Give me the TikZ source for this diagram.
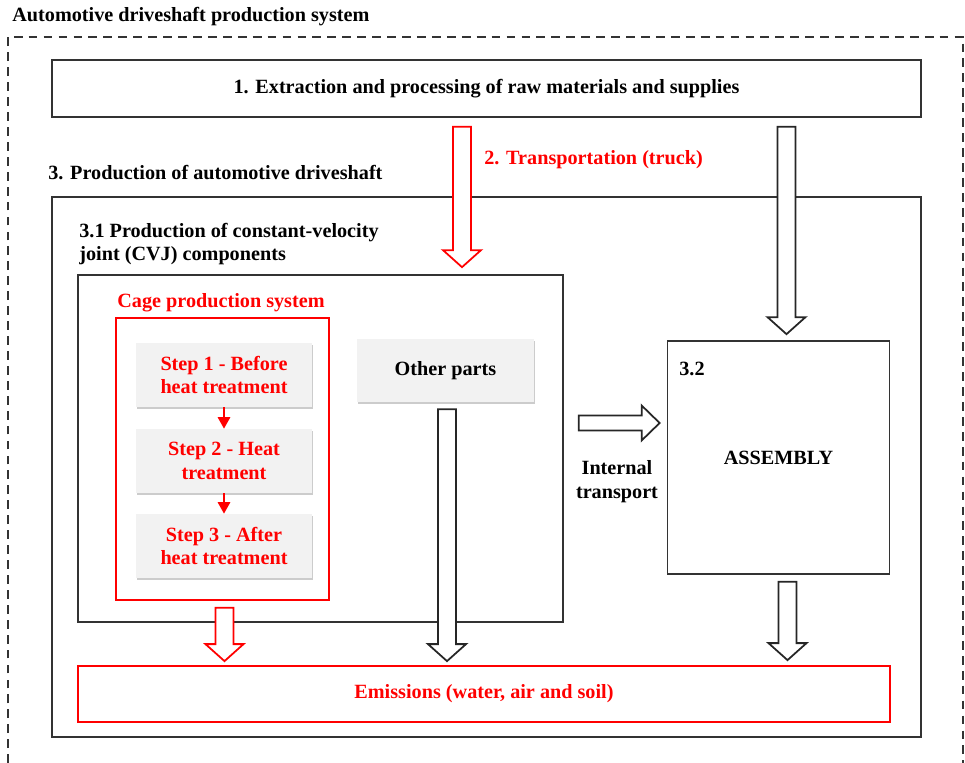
\documentclass[tikz,border=0pt]{standalone}
\usepackage{fontspec}
\setmainfont{Liberation Serif}
\usetikzlibrary{positioning, calc, shadows, arrows.meta}
\definecolor{boxgrey}{HTML}{F2F2F2}
\tikzset{
    lbl/.style={font=\bfseries\fontsize{11.5}{13.6}\selectfont, inner sep=0pt},
    frame/.style={draw=black!80, line width=1pt, lbl},
    redframe/.style={draw=red, line width=1pt, lbl},
    greybox/.style={fill=boxgrey, lbl, align=center, drop shadow={opacity=0.4, shadow xshift=0.8pt, shadow yshift=-1.4pt}},
    stepbox/.style={greybox, text=red, minimum width=3.52cm, minimum height=1.28cm},
    fatarrow/.style={line width=1pt, fill=white, line join=miter},
}
%block arrows (top, tip)
\newcommand{\fatdown}[3]{%
    \draw[fatarrow,draw=#1] ($(#2)+(-9,0)$) -- ($(#2)+(9,0)$) -- ($(#3)+(9,-17)$) -- ($(#3)+(19,-17)$) -- (#3) -- ($(#3)+(-19,-17)$) -- ($(#3)+(-9,-17)$) -- cycle;}
\newcommand{\fatright}[3]{%
    \draw[fatarrow,draw=#1] ($(#2)+(0,-7.5)$) -- ($(#3)+(-18,-7.5)$) -- ($(#3)+(-18,-17.5)$) -- (#3) -- ($(#3)+(-18,17.5)$) -- ($(#3)+(-18,7.5)$) -- ($(#2)+(0,7.5)$) -- cycle;}
\begin{document}
\begin{tikzpicture}[x=0.02cm, y=-0.02cm]
        \useasboundingbox (0,0) rectangle (965,763);
        %system boundary
        \node[lbl, anchor=west] (title) at (12,17) {Automotive driveshaft production system};
        \draw[black!80, line width=0.9pt, dash pattern=on 5pt off 3.5pt] (8,763) -- (8,37) -- (963,37) -- (963,763);
        %raw materials
        \node[frame, minimum width=17.38cm, minimum height=1.14cm] (raw) at (486.5,88.5) {1. Extraction and processing of raw materials and supplies};
        \node[lbl, text=red, anchor=west] (trlbl) at (484,160) {2. Transportation (truck)};
        %production
        \node[lbl, anchor=west] (prodlbl) at (48,173) {3. Production of automotive driveshaft};
        \node[frame, minimum width=17.38cm, minimum height=10.8cm] (prod) at (486.5,467) {};
        \node[lbl, anchor=west, align=left] (cvjlbl) at (79,244) {3.1 Production of constant-velocity\\joint (CVJ) components};
        \node[frame, minimum width=9.7cm, minimum height=6.94cm] (cvj) at (320.5,448.5) {};
        %cage
        \node[lbl, text=red] (cagelbl) at (221,303) {Cage production system};
        \node[redframe, minimum width=4.26cm, minimum height=5.64cm] (cage) at (222.5,459) {};
        \node[stepbox] (s1) at (224,375) {Step 1 - Before\\heat treatment};
        \node[stepbox] (s2) at (224,461) {Step 2 - Heat\\treatment};
        \node[stepbox] (s3) at (224,546) {Step 3 - After\\heat treatment};
        \draw[red, line width=1pt, -{Triangle[width=7pt, length=6.5pt]}] (s1) -- (s2);
        \draw[red, line width=1pt, -{Triangle[width=7pt, length=6.5pt]}] (s2) -- (s3);
        \node[greybox, minimum width=3.54cm, minimum height=1.26cm] (other) at (445.5,370.5) {Other parts};
        %assembly
        \node[frame, minimum width=4.44cm, minimum height=4.66cm] (asm) at (778.5,457.5) {ASSEMBLY};
        \node[lbl, anchor=west] (asmlbl) at (679,369) {3.2};
        \node[lbl, align=center] (intlbl) at (617,482) {Internal\\transport};
        %emissions
        \node[redframe, text=red, minimum width=16.24cm, minimum height=1.12cm] (emis) at (484,694) {Emissions (water, air and soil)};
        %arrows
        \coordinate (a1) at ($(raw.south)+(-24.5,9)$);
        \coordinate (a2) at ($(a1 |- cvj.north)+(0,-7)$);
        \fatdown{red}{a1}{a2}
        \coordinate (b1) at ($(asm.north |- raw.south)+(8,9)$);
        \coordinate (b2) at ($(asm.north)+(8,-6)$);
        \fatdown{black!85}{b1}{b2}
        \coordinate (c1) at ($(cage.south)+(2,7)$);
        \coordinate (c2) at ($(c1 |- emis.north)+(0,-4)$);
        \fatdown{red}{c1}{c2}
        \coordinate (d1) at ($(other.south)+(1.5,7)$);
        \coordinate (d2) at ($(d1 |- emis.north)+(0,-4)$);
        \fatdown{black!85}{d1}{d2}
        \coordinate (e1) at ($(asm.south)+(9,7)$);
        \coordinate (e2) at ($(e1 |- emis.north)+(0,-5)$);
        \fatdown{black!85}{e1}{e2}
        \coordinate (f1) at ($(cvj.east)+(15,-25.5)$);
        \coordinate (f2) at ($(asm.west)+(-7,-34.5)$);
        \fatright{black!85}{f1}{f2}
    \end{tikzpicture}
\end{document}
